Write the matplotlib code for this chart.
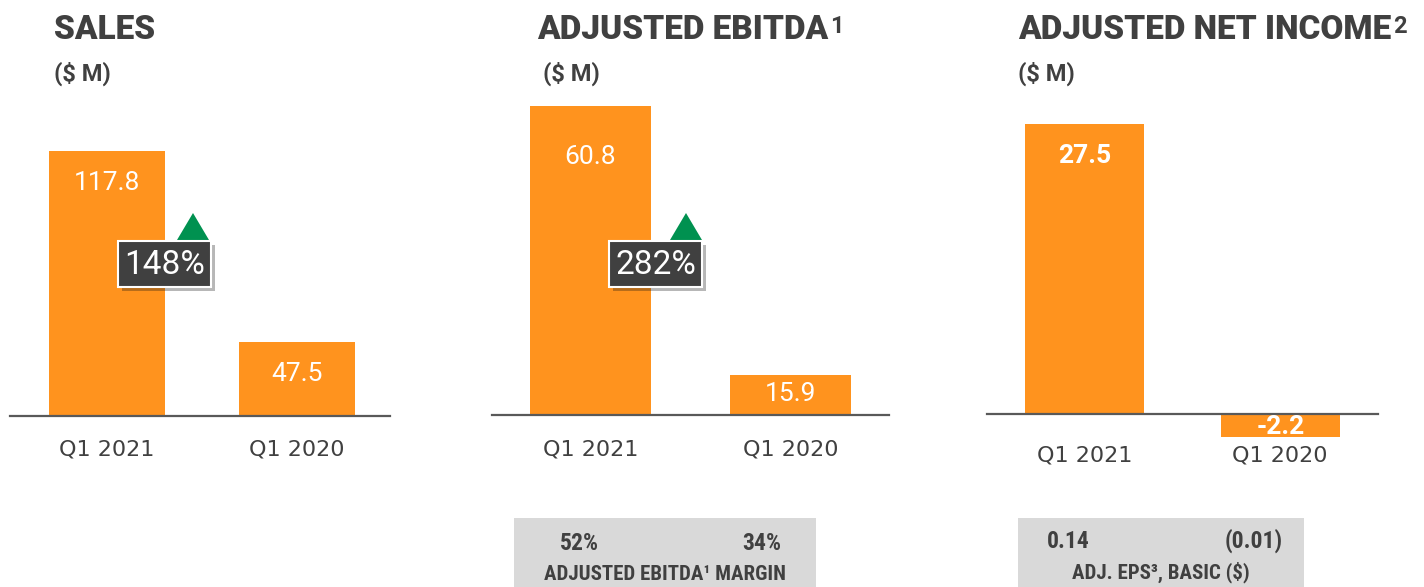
import matplotlib
matplotlib.use("Agg")
import matplotlib.pyplot as plt
from matplotlib.patches import Rectangle, Polygon
import matplotlib.patheffects as pe

# data
quarters = ["Q1 2021", "Q1 2020"]
sales = [117.8, 47.5]
ebitda = [60.8, 15.9]
net_income = [27.5, -2.2]
ebitda_margin = ["52%", "34%"]
adj_eps = ["0.14", "(0.01)"]

W, H = 1424, 587
ORANGE = "#FF931E"
DARK = "#404040"
LINE = "#595959"
GREEN = "#009150"

fig = plt.figure(figsize=(W / 100, H / 100), dpi=100)


def panel(left, right, top_px, bottom_px, base_px, ppu, base_val, xlo, xhi):
    ax = fig.add_axes([left / W, 1 - bottom_px / H, (right - left) / W, (bottom_px - top_px) / H])
    ax.set_ylim(base_val - (bottom_px - base_px) / ppu, base_val + (base_px - top_px) / ppu)
    ax.set_xlim(xlo, xhi)
    for s in ax.spines.values():
        s.set_visible(False)
    ax.set_yticks([])
    ax.axhline(base_val, color=LINE, lw=1.6, clip_on=False, zorder=3)
    return ax


def labels(ax, vals, offs, bold=False):
    for i, (v, o) in enumerate(zip(vals, offs)):
        ax.annotate(f"{v}", (i, v), xytext=(0, o), textcoords="offset points",
                    ha="center", va="center", color="white", fontsize=19,
                    family="Roboto", fontweight="bold" if bold else "normal", zorder=4)


# panel 1: sales
ax1 = panel(10, 390, 95, 416, 416, 2.717, 20.3, -0.51, 1.49)
ax1.bar([0, 1], sales, width=0.61, color=ORANGE, zorder=2)
labels(ax1, sales, [-23, -23])

# panel 2: adjusted ebitda
ax2 = panel(492, 889, 95, 415, 415, 5.99, 9.2, -0.49, 1.49)
ax2.bar([0, 1], ebitda, width=0.605, color=ORANGE, zorder=2)
labels(ax2, ebitda, [-37, -14])

# panel 3: adjusted net income
ax3 = panel(987, 1378, 95, 441, 414, 10.55, 0.0, -0.5, 1.5)
ax3.bar([0, 1], net_income, width=0.61, color=ORANGE, zorder=2)
labels(ax3, net_income, [-23, 7], bold=True)

for ax, pad in [(ax1, 17), (ax2, 17.5), (ax3, 3)]:
    ax.set_xticks([0, 1], quarters)
    ax.tick_params(axis="x", length=0, pad=pad, labelsize=16, labelcolor=DARK)
    for t in ax.get_xticklabels():
        t.set_family("DejaVu Sans")

# overlay in pixel space for titles, badges, footers
ov = fig.add_axes([0, 0, 1, 1], zorder=10)
ov.set_xlim(0, W)
ov.set_ylim(H, 0)
ov.axis("off")

titles = [("SALES", 54), ("ADJUSTED EBITDA", 537), ("ADJUSTED NET INCOME", 1018)]
sups = ["", "1", "2"]
for (txt, x), s in zip(titles, sups):
    t = ov.text(x, 39, txt, fontsize=24, fontweight="black", color=DARK, ha="left",
                va="baseline", family=["Roboto", "DejaVu Sans"])
    if s:
        ov.annotate(s, xy=(1, 1), xycoords=t, xytext=(1, -1), textcoords="offset points",
                    ha="left", va="top", fontsize=17, fontweight="bold", color=DARK,
                    family=["Roboto", "DejaVu Sans"])
for x in [54, 543, 1018]:
    ov.text(x, 74, "($ M)", fontsize=17, fontweight="bold", color=DARK, ha="left", va="center",
            family=["Roboto", "DejaVu Sans"])

# growth badges
growth = [sales[0] / sales[1] - 1, ebitda[0] / ebitda[1] - 1]
for (bx, by, tx), g in zip([(118, 241, 193), (609, 241, 686)], growth):
    ov.add_patch(Polygon([(tx - 16, 240), (tx + 16, 240), (tx, 213)], closed=True,
                         facecolor=GREEN, edgecolor="none"))
    r = Rectangle((bx, by), 93, 46, facecolor=DARK, edgecolor="white", lw=1.5,
                  path_effects=[pe.SimplePatchShadow(offset=(3, -3), alpha=0.3), pe.Normal()])
    ov.add_patch(r)
    ov.text(bx + 46.5, by + 24, f"{g * 100:.0f}%", color="white", fontsize=24,
            ha="center", va="center", family="Roboto")

# footer boxes
NARROW = ["DejaVu Sans Condensed", "Liberation Sans Narrow", "Roboto Condensed", "Roboto"]
ov.add_patch(Rectangle((514, 518), 302, 70, facecolor="#D9D9D9", edgecolor="none"))
ov.add_patch(Rectangle((1018, 518), 286, 70, facecolor="#D9D9D9", edgecolor="none"))
for x, t in zip([579, 762], ebitda_margin):
    ov.text(x, 543, t, fontsize=17, color=DARK, ha="center", va="center", family=NARROW,
            fontweight="bold")
ov.text(665, 575, "ADJUSTED EBITDA\u00b9 MARGIN", fontsize=15, color=DARK, ha="center",
        va="center", family=NARROW, fontweight="bold")
for x, t in zip([1068, 1254], adj_eps):
    ov.text(x, 541, t, fontsize=17, color=DARK, ha="center", va="center", family=NARROW,
            fontweight="bold")
ov.text(1161, 572, "ADJ. EPS\u00b3, BASIC ($)", fontsize=15, color=DARK, ha="center",
        va="center", family=NARROW, fontweight="bold")

fig.savefig("out.png", dpi=100)
